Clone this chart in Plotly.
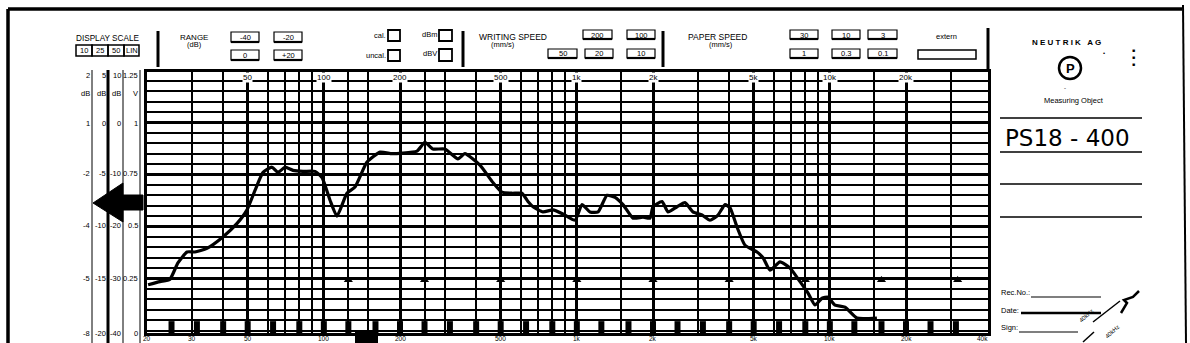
import numpy as np
import plotly.graph_objects as go

# ---------------- data ----------------
curve_freq = [20.2, 22.5, 24.6, 26.5, 28.8, 30.9, 34.5, 39.9, 45.4, 49.7, 53.5, 57.5, 62.4, 65.9,
              70.2, 75.5, 82.7, 92.3, 98.4, 105.7, 112.7, 123.4, 132.8, 148.1, 166.8, 185.9,
              203.7, 233.6, 251, 270, 301, 339, 361, 414, 467, 506, 554, 607, 641, 671, 735,
              805, 882, 984, 1048, 1127, 1213, 1316, 1416, 1522, 1668, 1826, 1946, 2000, 2172,
              2293, 2489, 2675, 2877, 3124, 3359, 3614, 3853, 4031, 4296, 4621, 5154, 5444,
              5800, 6354, 6963, 7622, 8201, 8738, 9313, 9835, 10480, 11480, 12800, 15350]
curve_db = [-15.6, -15.3, -15.1, -13.5, -12.45, -12.45, -12.1, -11.0, -9.7, -8.4, -6.5, -4.8,
            -4.3, -4.8, -4.3, -4.6, -4.7, -4.7, -5.3, -7.45, -9.0, -6.8, -6.2, -3.8, -2.85,
            -3.0, -2.95, -2.75, -1.9, -2.55, -2.55, -3.5, -3.0, -4.1, -5.8, -6.7, -6.8, -6.8,
            -7.6, -8.1, -8.6, -8.4, -8.8, -9.4, -7.9, -8.6, -8.6, -7.0, -7.2, -7.9, -9.2, -9.1,
            -9.2, -8.1, -7.6, -8.6, -8.1, -7.7, -8.6, -8.9, -9.4, -8.9, -7.9, -8.2, -10.05,
            -11.8, -12.45, -13.0, -14.2, -13.4, -14.0, -15.3, -16.4, -17.55, -16.9, -16.8,
            -17.55, -17.75, -18.8, -18.8]

major_grid_freq = [50, 100, 200, 500, 1000, 2000, 5000, 10000, 20000]
minor_grid_freq = [30, 40, 60, 70, 80, 90, 125, 150, 250, 300, 400, 600, 700, 800, 900,
                   1500, 3000, 4000, 6000, 7000, 8000, 9000, 15000, 30000]
major_grid_db = [0, -5, -10, -15]
minor_grid_db = [4, 3, 2, 1, -1, -2, -3, -4, -6, -7, -8, -9, -11, -12, -13, -14,
                 -16, -17, -18, -19, -20]

triangle_freq = [125, 250, 500, 1000, 2000, 4000, 8000, 16000, 32000]
triangle_db = [-15.15] * len(triangle_freq)

block_freq = [25, 31.5, 40, 50, 63, 80, 100, 125, 160, 200, 250, 315, 400, 500, 630, 800,
              1000, 1250, 1600, 2000, 2500, 3150, 4000, 5000, 6300, 8000, 10000, 12500,
              16000, 20000, 25000, 31500]
block_top_db = -19.1
block_bottom_db = -20.4

top_label_freq = [50, 100, 200, 500, 1000, 2000, 5000, 10000, 20000]
top_label_text = ["50", "100", "200", "500", "1k", "2k", "5k", "10k", "20k"]
bottom_label_freq = [20, 30, 50, 100, 200, 500, 1000, 2000, 5000, 10000, 20000, 40000]
bottom_label_text = ["20", "30", "50", "100", "200", "500", "1k", "2k", "5k", "10k", "20k", "40k"]

scale_rows_y = [75, 93, 123, 173, 225, 278, 333]
scale_col1 = ["2", "dB", "1", "-2", "-4", "-5", "-8"]
scale_col2 = ["5", "dB", "0", "-5", "-10", "-15", "-20"]
scale_col3 = ["10", "dB", "0", "-10", "-20", "-30", "-40"]
scale_col4 = ["1.25", "V", "1", "0.75", "0.5", "0.25", "0"]

# ---------------- layout helpers ----------------
W, H = 1190, 343
FONT = "Liberation Sans, Arial, sans-serif"


def px(x):
    return x / W


def py(y):
    return 1 - y / H


shapes = []
annotations = []


def rect(x0, y0, x1, y1, lw=1.5, fill=None):
    shapes.append(dict(type="rect", xref="paper", yref="paper",
                       x0=px(x0), x1=px(x1), y0=py(y1), y1=py(y0),
                       line=dict(color="black", width=lw),
                       fillcolor=fill if fill else "rgba(0,0,0,0)"))


def line(x0, y0, x1, y1, lw=1.5):
    shapes.append(dict(type="line", xref="paper", yref="paper",
                       x0=px(x0), x1=px(x1), y0=py(y0), y1=py(y1),
                       line=dict(color="black", width=lw)))


def text(x, y, s, size=8, anchor="center", angle=0, family=FONT, bg=None):
    a = dict(xref="paper", yref="paper", x=px(x), y=py(y), text=s, showarrow=False,
             xanchor=anchor, yanchor="middle", textangle=angle,
             font=dict(family=family, size=size, color="black"))
    if bg:
        a["bgcolor"] = bg
    a["borderpad"] = 0
    annotations.append(a)


def box(x0, y0, x1, y1, s, size=7.5):
    rect(x0, y0, x1, y1, lw=1.2)
    line(x0, y1, x1, y1, lw=2.2)
    text((x0 + x1) / 2, (y0 + y1) / 2 + 0.5, s, size=size)


# ---------------- plot traces ----------------
fig = go.Figure()

# 1/3-octave bottom blocks
bx, by = [], []
for f in block_freq:
    bx += [f, f, None]
    by += [block_top_db, block_bottom_db, None]
fig.add_trace(go.Scatter(x=bx, y=by, mode="lines", line=dict(color="black", width=6),
                         hoverinfo="skip", showlegend=False))

# octave triangles
fig.add_trace(go.Scatter(x=triangle_freq, y=triangle_db, mode="markers",
                         marker=dict(symbol="triangle-up", size=8, color="black"),
                         hoverinfo="skip", showlegend=False))

# response curve
fig.add_trace(go.Scatter(x=curve_freq, y=curve_db, mode="lines",
                         line=dict(color="black", width=3.2, shape="spline", smoothing=0.5),
                         showlegend=False))

x_top, x_bot = 72, 333
y_range = [(122.5 - x_bot) / 10.4, (122.5 - x_top) / 10.4]
x_range = [np.log10(20), np.log10(20) + (988 - 147) / 253]

fig.update_xaxes(type="log", range=x_range, domain=[px(147), px(988)],
                 tickmode="array", tickvals=major_grid_freq, showticklabels=False, ticks="",
                 showgrid=True, gridcolor="black", gridwidth=3,
                 minor=dict(tickmode="array", tickvals=minor_grid_freq, showgrid=True,
                            gridcolor="black", gridwidth=1.5, ticks=""),
                 showline=True, linecolor="black", linewidth=3, mirror=True, zeroline=False)
fig.update_yaxes(range=y_range, domain=[py(x_bot), py(x_top)],
                 tickmode="array", tickvals=major_grid_db, showticklabels=False, ticks="",
                 showgrid=True, gridcolor="black", gridwidth=2.5,
                 minor=dict(tickmode="array", tickvals=minor_grid_db, showgrid=True,
                            gridcolor="black", gridwidth=1.8, ticks=""),
                 showline=True, linecolor="black", linewidth=3, mirror=True, zeroline=False)

# frequency labels (top inside, bottom under the axis)
for f, s in zip(top_label_freq, top_label_text):
    annotations.append(dict(xref="x", yref="paper", x=np.log10(f), y=py(77.5), text=s,
                            showarrow=False, xanchor="center", yanchor="middle",
                            bgcolor="white", borderpad=0,
                            font=dict(family=FONT, size=8, color="black")))
for f, s in zip(bottom_label_freq, bottom_label_text):
    annotations.append(dict(xref="x", yref="paper", x=np.log10(f), y=py(338.5), text=s,
                            showarrow=False, xanchor="center", yanchor="middle",
                            font=dict(family=FONT, size=6.5, color="black")))

# ---------------- frame ----------------
line(8, 9, 1182, 9, lw=3.5)
line(8, 9, 8, 343, lw=3.5)
line(1183, 5, 1186, 343, lw=2)

# ---------------- left display scale ----------------
for xv, lw in [(92, 1), (108, 3), (123, 1), (140, 1)]:
    line(xv, 70, xv, 343, lw=lw)
for col, xr in [(scale_col1, 91), (scale_col2, 107), (scale_col3, 122), (scale_col4, 139)]:
    for yv, s in zip(scale_rows_y, col):
        text(xr, yv, s, size=7.5, anchor="right")

# arrow
arrow_path = "M {} {} L {} {} L {} {} L {} {} L {} {} L {} {} L {} {} Z".format(
    px(93), py(203), px(123), py(183), px(123), py(195), px(143), py(195),
    px(143), py(210), px(123), py(210), px(123), py(222))
shapes.append(dict(type="path", xref="paper", yref="paper", path=arrow_path,
                   fillcolor="black", line=dict(color="black", width=1)))

# black patch under axis
rect(355, 331, 378, 343, lw=0, fill="black")

# ---------------- header ----------------
text(107, 39, "DISPLAY SCALE", size=8.2)
cells = [76, 92, 108, 124, 139]
for i, s in enumerate(["10", "25", "50", "LIN"]):
    rect(cells[i], 45, cells[i + 1], 56, lw=1.5)
    text((cells[i] + cells[i + 1]) / 2, 50.5, s, size=7.5)

for xv in [158, 463, 663]:
    line(xv, 31, xv, 67, lw=3)
line(988, 28, 988, 72, lw=3)

text(194, 38, "RANGE", size=8)
text(194, 45, "(dB)", size=7.5)
box(231, 32, 259, 42, "-40")
box(274, 32, 302, 42, "-20")
box(231, 50, 259, 60, "0")
box(274, 50, 302, 60, "+20")

text(387, 35, "cal.", size=7.5, anchor="right")
rect(388, 30, 400, 41, lw=1.8)
text(387, 56, "uncal.", size=7.5, anchor="right")
rect(388, 50, 400, 61, lw=1.8)
text(438, 34, "dBm", size=7.5, anchor="right")
rect(439, 30, 452, 41, lw=1.8)
text(438, 54, "dBV", size=7.5, anchor="right")
rect(439, 49, 452, 61, lw=1.8)

text(513, 37, "WRITING SPEED", size=8.5)
text(503, 44, "(mm/s)", size=7.5)
box(583, 30, 612, 39, "200")
box(627, 30, 655, 39, "100")
box(548, 49, 577, 58, "50")
box(585, 49, 613, 58, "20")
box(627, 49, 655, 58, "10")

text(717, 37, "PAPER SPEED", size=8.5)
text(721, 44, "(mm/s)", size=7.5)
box(790, 30, 818, 39, "30")
box(832, 30, 860, 39, "10")
box(868, 30, 897, 39, "3")
box(790, 49, 818, 58, "1")
box(832, 49, 860, 58, "0.3")
box(868, 49, 897, 58, "0.1")
text(947, 36, "extern", size=7.5)
rect(918, 50, 976, 59, lw=1.5)

# right panel
text(1066, 42, "<b>N E U T R I K   A G</b>", size=8)
shapes.append(dict(type="circle", xref="paper", yref="paper",
                   x0=px(1059), x1=px(1081), y0=py(79), y1=py(57),
                   line=dict(color="black", width=2.5)))
text(1070, 68, "<b>P</b>", size=13)
text(1104, 53, "•", size=6)
for yv in [50, 57, 64]:
    text(1133, yv, "■", size=5)
text(1065, 88, "-", size=6)
text(1074, 100, "Measuring Object", size=7.5)
line(1000, 118, 1142, 118, lw=1.5)
text(1067, 138, "PS18 - 400", size=23, family="DejaVu Sans, sans-serif")
line(1000, 152, 1142, 152, lw=1.5)
line(1000, 184, 1142, 184, lw=1.5)
line(1000, 217, 1142, 217, lw=1.5)

text(1000, 292, "Rec.No.:", size=7.5, anchor="left")
line(1031, 297, 1101, 297, lw=1.2)
text(1000, 310, "Date:", size=7.5, anchor="left")
line(1021, 313, 1101, 313, lw=2.5)
text(1000, 327, "Sign:", size=7.5, anchor="left")
line(1019, 332, 1078, 332, lw=1.2)

# diagonal note
line(1093, 322, 1120, 301, lw=1.5)
line(1083, 342, 1094, 332, lw=1.5)
text(1086, 316, "40kHz", size=6, angle=-42)
text(1112, 332, "40kHz", size=6, angle=-42)
shapes.append(dict(type="path", xref="paper", yref="paper",
                   path="M {} {} L {} {} L {} {} L {} {} L {} {}".format(
                       px(1121), py(313), px(1127), py(303), px(1124), py(300),
                       px(1133), py(297), px(1139), py(291)),
                   line=dict(color="black", width=2.5)))

fig.update_layout(width=W, height=H, autosize=False,
                  margin=dict(l=0, r=0, t=0, b=0, pad=0),
                  paper_bgcolor="white", plot_bgcolor="white",
                  shapes=shapes, annotations=annotations, showlegend=False)

fig.write_html("out.html")
